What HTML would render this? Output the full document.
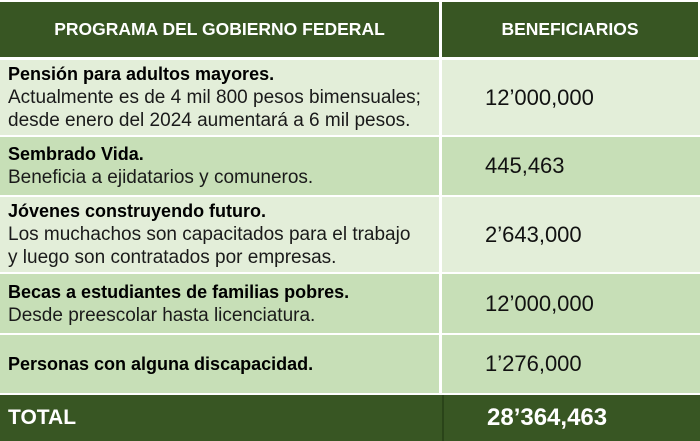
<!DOCTYPE html>
<html><head><meta charset="utf-8"><style>
body{margin:0;width:700px;height:441px;background:#fff;font-family:"Liberation Sans",sans-serif;overflow:hidden}
.r{position:absolute;left:0;width:700px}
.c1{position:absolute;left:0;width:439px;top:0;bottom:0;box-sizing:border-box;padding-left:8px;display:flex;flex-direction:column;justify-content:center}
.c2{position:absolute;left:442px;right:0;top:0;bottom:0;display:flex;align-items:center;padding-left:43px;font-size:22px;color:#111}
.b{font-weight:bold;font-size:18px;color:#000;line-height:23px}
.t{font-size:19px;color:#1a1a1a;line-height:23px;white-space:nowrap}
.hd{color:#fff;font-weight:bold;font-size:17.5px;justify-content:center;align-items:center;padding:0;display:flex}
.light{background:#e3eed9}.med{background:#c7dfb7}.dark{background:#385623}
</style></head><body>
<div class="r" style="top:0;height:57px;background:#fff">
 <div class="c1 dark hd" style="top:2px;bottom:0">PROGRAMA DEL GOBIERNO FEDERAL</div>
 <div class="c2 dark hd" style="top:2px;right:2px;padding:0;font-size:17.5px;color:#fff">BENEFICIARIOS</div>
</div>
<div class="r" style="top:60px;height:75px">
 <div class="c1 light"><div class="b">Pensión para adultos mayores.</div><div class="t">Actualmente es de 4 mil 800 pesos bimensuales;</div><div class="t">desde enero del 2024 aumentará a 6 mil pesos.</div></div>
 <div class="c2 light">12’000,000</div>
</div>
<div class="r" style="top:137px;height:58px">
 <div class="c1 med"><div class="b">Sembrado Vida.</div><div class="t">Beneficia a ejidatarios y comuneros.</div></div>
 <div class="c2 med">445,463</div>
</div>
<div class="r" style="top:197px;height:75px">
 <div class="c1 light"><div class="b">Jóvenes construyendo futuro.</div><div class="t">Los muchachos son capacitados para el trabajo</div><div class="t">y luego son contratados por empresas.</div></div>
 <div class="c2 light">2’643,000</div>
</div>
<div class="r" style="top:274px;height:59px">
 <div class="c1 med"><div class="b">Becas a estudiantes de familias pobres.</div><div class="t">Desde preescolar hasta licenciatura.</div></div>
 <div class="c2 med">12’000,000</div>
</div>
<div class="r" style="top:335px;height:58px">
 <div class="c1 med"><div class="b">Personas con alguna discapacidad.</div></div>
 <div class="c2 med">1’276,000</div>
</div>
<div class="r dark" style="top:395px;height:46px">
 <div class="c1" style="color:#fff;font-weight:bold;font-size:21px">TOTAL</div>
 <div class="c2" style="color:#fff;font-weight:bold;font-size:24px;border-left:2px solid #2a4419">28’364,463</div>
</div>
</body></html>
